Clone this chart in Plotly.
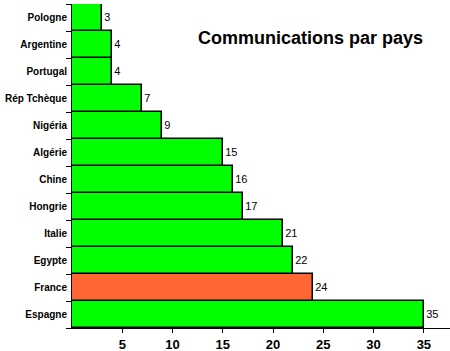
import plotly.graph_objects as go

pays = ["Espagne", "France", "Egypte", "Italie", "Hongrie", "Chine", "Algérie",
        "Nigéria", "Rép Tchèque", "Portugal", "Argentine", "Pologne"]
valeurs = [35, 24, 22, 21, 17, 16, 15, 9, 7, 4, 4, 3]
couleurs = ["#00FF00" if p != "France" else "#FF6633" for p in pays]
ticks_x = [5, 10, 15, 20, 25, 30, 35]

fig = go.Figure(go.Bar(
    y=pays, x=valeurs, orientation="h",
    marker=dict(color=couleurs, line=dict(color="black", width=1.5)),
    text=[str(v) for v in valeurs], textposition="outside",
    textfont=dict(family="Liberation Sans, Arial", size=11, color="black"),
    cliponaxis=False,
))

fig.update_layout(
    width=450, height=351,
    margin=dict(l=72, r=0, t=4, b=23, autoexpand=False),
    paper_bgcolor="white", plot_bgcolor="white",
    bargap=0, showlegend=False,
    font=dict(family="Liberation Sans, Arial", color="black"),
    annotations=[dict(
        text="<b>Communications par pays</b>", x=0.632, y=0.895,
        xref="paper", yref="paper", showarrow=False,
        xanchor="center", yanchor="middle",
        font=dict(size=18, color="black"),
    )],
)

fig.update_xaxes(
    range=[0, 37.6], tickvals=ticks_x, ticktext=[str(t) for t in ticks_x],
    showgrid=False, zeroline=False, showline=True, linecolor="black", linewidth=1,
    ticks="outside", ticklen=4, tickcolor="black", automargin=False,
    tickfont=dict(size=13, family="Liberation Sans, Arial", weight="bold"),
)
fig.update_yaxes(
    range=[-0.5, 11.5], categoryorder="array", categoryarray=pays,
    showgrid=False, showline=True, linecolor="black", linewidth=1, automargin=False,
    ticks="outside", tickson="boundaries", ticklen=5, tickcolor="black",
    tickfont=dict(size=10, family="Liberation Sans, Arial", weight="bold"),
    ticklabelstandoff=2,
)

fig.write_html("out.html")
